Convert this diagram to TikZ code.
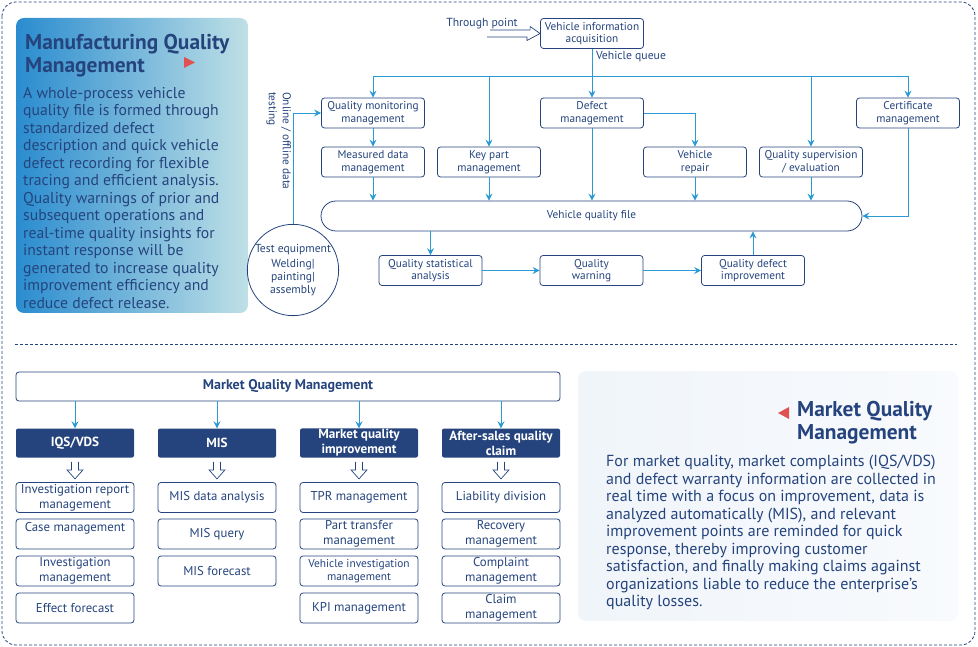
\documentclass[tikz,border=0pt]{standalone}
\usepackage{fontspec}
\setmainfont{PT Sans}
\usetikzlibrary{arrows.meta,calc}
\definecolor{navy}{HTML}{25447D}
\definecolor{flowblue}{HTML}{2B9AD4}
\definecolor{redmark}{HTML}{E05252}
\definecolor{panelL}{HTML}{2A8CCF}
\definecolor{panelR}{HTML}{BFE0E6}
\definecolor{panelA}{HTML}{F0F5FA}
\definecolor{panelB}{HTML}{F8FAFD}
\tikzset{
	box/.style={draw=navy,line width=.8pt,rounded corners=3pt,minimum width=103pt,minimum height=30pt,inner sep=1pt,align=center,text=navy,font=\fontsize{11.3}{12.5}\selectfont},
	flow/.style={draw=flowblue,line width=.9pt,-{Stealth[length=7pt,width=7pt,inset=2.5pt]}},
	wire/.style={draw=flowblue,line width=.9pt},
	headbox/.style={fill=navy,rounded corners=2pt,minimum width=118pt,minimum height=29pt,inner sep=1pt,align=center,text=white,font=\bfseries\fontsize{13.2}{15}\selectfont},
	itembox/.style={draw=navy,line width=.8pt,rounded corners=3pt,minimum width=118pt,minimum height=30pt,inner sep=1pt,align=center,text=navy,font=\fontsize{12.8}{15}\selectfont},
	bodytext/.style={align=left,text=navy,inner sep=0pt,font=\fontsize{15.7}{17.5}\selectfont},
	titletext/.style={align=left,text=navy,inner sep=0pt,font=\bfseries\fontsize{21.4}{23}\selectfont},
	smalltext/.style={text=navy,inner sep=0pt,font=\fontsize{11.7}{12.5}\selectfont},
	hollowdown/.pic={\draw[navy,line width=.7pt,line join=miter] (-3.5,-8) -- (-3.5,0) -- (-8,0) -- (0,9) -- (8,0) -- (3.5,0) -- (3.5,-8);}
}
\begin{document}
\begin{tikzpicture}[x=1pt,y=-1pt]
	\useasboundingbox (0,0) rectangle (978,647);
	\draw[navy,line width=.8pt,dash pattern=on 3pt off 2pt,rounded corners=14pt] (2,2) rectangle (975,645);
	\draw[navy,line width=.8pt,dash pattern=on 3pt off 2pt] (15,344) -- (957,344);
	
	\shade[left color=panelL,right color=panelR,rounded corners=8pt] (16,18) rectangle (248,313);
	\node[titletext,anchor=north west] (mtitle) at (25,34) {Manufacturing Quality\\Management};
	\fill[redmark] (184,57) -- (195,62.5) -- (184,68) -- cycle;
	\node[bodytext,anchor=north west] (mbody) at (23,87) {A whole-process vehicle\\quality file is formed through\\standardized defect\\description and quick vehicle\\defect recording for flexible\\tracing and efficient analysis.\\Quality warnings of prior and\\subsequent operations and\\real-time quality insights for\\instant response will be\\generated to increase quality\\improvement efficiency and\\reduce defect release.};
	
	\node[box] (via) at (592,33.5) {Vehicle information\\acquisition};
	\node[smalltext] (tp) at (482,24) {Through point};
	\coordinate (tpa) at (487,33.5);
	\draw[navy,line width=.7pt,line join=miter] (tpa) ++(0,3.5) -- ++(40,0) -- ++(0,3.5) -- (via.west) -- ++(-10,-7) -- ++(0,3.5) -- ++(-40,0);
	\node[smalltext] (vq) at (631,57) {Vehicle queue};
	
	\node[box] (qmm) at (373,113) {Quality monitoring\\management};
	\node[box] (mdm) at (373,162) {Measured data\\management};
	\node[box] (kpm) at (489,162) {Key part\\management};
	\node[box] (dm) at (592,113) {Defect\\management};
	\node[box] (vr) at (695,162) {Vehicle\\repair};
	\node[box] (qse) at (811,162) {Quality supervision\\/ evaluation};
	\node[box] (cm) at (908,113) {Certificate\\management};
	\node[box,minimum width=541pt,rounded corners=15pt] (vqf) at (591.5,216) {Vehicle quality file};
	\node[box] (qsa) at (430.5,270.5) {Quality statistical\\analysis};
	\node[box] (qw) at (591.5,270.5) {Quality\\warning};
	\node[box] (qdi) at (753,270.5) {Quality defect\\improvement};
	\node[draw=navy,line width=.8pt,circle,minimum size=88pt,inner sep=0pt,align=center,text=navy,font=\fontsize{11.6}{12.8}\selectfont] (te) at (293,270) {Test equipment\\[2pt]Welding|\\painting|\\assembly};
	\node[rotate=-90,anchor=north west,align=left,text=navy,inner sep=0pt,font=\fontsize{11.3}{14}\selectfont] (online) at (291,92) {Online / offline data\\testing};
	
	\coordinate (bus) at (592,76);
	\draw[flow] (via.south) -- (dm.north);
	\draw[wire] (bus -| qmm) -- (bus -| cm);
	\draw[flow] (bus -| qmm) -- (qmm.north);
	\draw[flow] (bus -| kpm) -- (kpm.north);
	\draw[flow] (bus -| qse) -- (qse.north);
	\draw[flow] (bus -| cm) -- (cm.north);
	\draw[flow] (qmm.south) -- (mdm.north);
	\draw[flow] (mdm.south) -- (mdm.south |- vqf.north);
	\draw[flow] (kpm.south) -- (kpm.south |- vqf.north);
	\draw[flow] (dm.south) -- (dm.south |- vqf.north);
	\draw[flow] (dm.east) -| (vr.north);
	\draw[flow] (vr.south) -- (vr.south |- vqf.north);
	\draw[flow] (qse.south) -- (qse.south |- vqf.north);
	\draw[flow] (cm.south) |- (vqf.east);
	\draw[flow] (qsa.north |- vqf.south) -- (qsa.north);
	\draw[flow] (qsa.east) -- (qw.west);
	\draw[flow] (qw.east) -- (qdi.west);
	\draw[flow] (qdi.north) -- (qdi.north |- vqf.south);
	\draw[flow] (te.north) |- (qmm.west);
	
	\node[itembox,minimum width=544pt,minimum height=29pt,font=\bfseries\fontsize{14}{15}\selectfont] (mqm) at (288,386.5) {Market Quality Management};
	\node[headbox] (h1) at (75,443) {IQS/VDS};
	\node[headbox] (h2) at (217,443) {MIS};
	\node[headbox] (h3) at (359,443) {Market quality\\improvement};
	\node[headbox] (h4) at (501,443) {After-sales quality\\claim};
	\draw[flow] (mqm.south -| h1) -- (h1.north);
	\draw[flow] (mqm.south -| h2) -- (h2.north);
	\draw[flow] (mqm.south -| h3) -- (h3.north);
	\draw[flow] (mqm.south -| h4) -- (h4.north);
	
	\node[itembox] (a1) at (75,497.5) {Investigation report\\management};
	\node[itembox] (a2) at (75,534) {Case management\\~};
	\node[itembox] (a3) at (75,571) {Investigation\\management};
	\node[itembox] (a4) at (75,608) {Effect forecast};
	\node[itembox] (b1) at (217,497.5) {MIS data analysis};
	\node[itembox] (b2) at (217,534) {MIS query};
	\node[itembox] (b3) at (217,571) {MIS forecast};
	\node[itembox] (c1) at (359,497.5) {TPR management};
	\node[itembox] (c2) at (359,534) {Part transfer\\management};
	\node[itembox,font=\fontsize{11.4}{12.5}\selectfont] (c3) at (359,571) {Vehicle investigation\\management};
	\node[itembox] (c4) at (359,608) {KPI management};
	\node[itembox] (d1) at (501,497.5) {Liability division};
	\node[itembox] (d2) at (501,534) {Recovery\\management};
	\node[itembox] (d3) at (501,571) {Complaint\\management};
	\node[itembox] (d4) at (501,608) {Claim\\management};
	\pic at ($(h1.south)!.5!(a1.north)$) {hollowdown};
	\pic at ($(h2.south)!.5!(b1.north)$) {hollowdown};
	\pic at ($(h3.south)!.5!(c1.north)$) {hollowdown};
	\pic at ($(h4.south)!.5!(d1.north)$) {hollowdown};
	
	\shade[left color=panelA,right color=panelB,rounded corners=8pt] (578,371) rectangle (958,621);
	\node[titletext,anchor=north west] (qtitle) at (797,401) {Market Quality\\Management};
	\fill[redmark] (789,407) -- (778,413) -- (789,419) -- cycle;
	\node[bodytext,anchor=north west,font=\fontsize{16}{17.5}\selectfont] (qbody) at (606,455) {For market quality, market complaints (IQS/VDS)\\and defect warranty information are collected in\\real time with a focus on improvement, data is\\analyzed automatically (MIS), and relevant\\improvement points are reminded for quick\\response, thereby improving customer\\satisfaction, and finally making claims against\\organizations liable to reduce the enterprise’s\\quality losses.};
\end{tikzpicture}
\end{document}
